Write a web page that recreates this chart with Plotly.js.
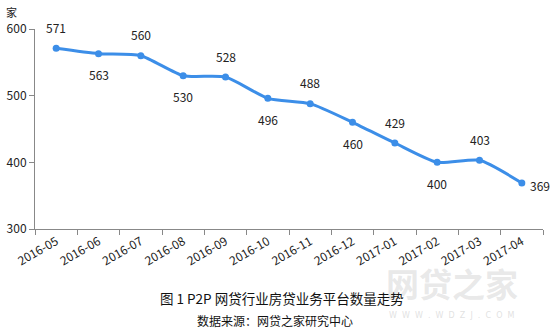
<!DOCTYPE html>
<html><head><meta charset="utf-8">
<script src="https://cdn.plot.ly/plotly-3.0.1.min.js"></script>
<style>html,body{margin:0;padding:0;background:#fff}#c{width:552px;height:328px}</style>
</head><body><div id="c"></div>
<script>
const months = ["2016-05","2016-06","2016-07","2016-08","2016-09","2016-10","2016-11","2016-12","2017-01","2017-02","2017-03","2017-04"];
const platforms = [571,563,560,530,528,496,488,460,429,400,403,369];
const labelPos = ["above","below","above","below","above","below","above","below","above","below","above","right"];
const yTicks = [300,400,500,600];

const font = "Microsoft YaHei, 'Noto Sans CJK SC', 'DejaVu Sans', sans-serif";
const annotations = months.map((m,i)=>{
  const p = labelPos[i];
  return {x:m, y:platforms[i], text:String(platforms[i]), showarrow:false,
    xshift: p==="right"?18:0, yshift: p==="above"?21:(p==="below"?-21:-2),
    font:{family:font,size:12,color:"#222"}};
});
annotations.push({xref:"paper",yref:"paper",x:-0.047,y:1.085,text:"家",showarrow:false,font:{family:"'Noto Sans CJK SC'",size:11,color:"#222"},xanchor:"center",yanchor:"middle"});
annotations.push({xref:"paper",yref:"paper",x:0.82,y:-0.27,text:"<b>网贷之家</b>",showarrow:false,font:{family:"'Noto Sans CJK SC'",size:33,color:"rgba(205,205,205,0.45)"},xanchor:"center",yanchor:"middle"});
annotations.push({xref:"paper",yref:"paper",x:0.82,y:-0.43,text:"W  W  W  .  W  D  Z  J  .  C  O  M",showarrow:false,font:{family:"'DejaVu Sans'",size:8,color:"rgba(205,205,205,0.6)"},xanchor:"center",yanchor:"middle"});
annotations.push({xref:"paper",yref:"paper",x:0.486,y:-0.345,text:"图 1 P2P 网贷行业房贷业务平台数量走势",showarrow:false,font:{family:"'Noto Sans CJK SC'",size:13.5,color:"#111"},xanchor:"center",yanchor:"middle"});
annotations.push({xref:"paper",yref:"paper",x:0.472,y:-0.455,text:"数据来源：网贷之家研究中心",showarrow:false,font:{family:"'Noto Sans CJK SC'",size:12,color:"#111"},xanchor:"center",yanchor:"middle"});

Plotly.newPlot("c",[{
  x:months, y:platforms, type:"scatter", mode:"lines+markers",
  line:{color:"#3c8ee8",width:3,shape:"spline",smoothing:0.6},
  marker:{color:"#3c8ee8",size:7}
}],{
  width:552,height:328,
  margin:{l:35,r:9,t:29,b:99},
  paper_bgcolor:"#fff",plot_bgcolor:"#fff",
  showlegend:false,
  xaxis:{type:"category",tickson:"boundaries",ticks:"outside",ticklen:5,tickcolor:"#888",
    showline:true,linecolor:"#888",linewidth:1,showgrid:false,zeroline:false,
    tickangle:-30,tickfont:{family:font,size:12,color:"#222"},range:[-0.5,11.5]},
  yaxis:{range:[300,600],tickvals:yTicks,ticks:"outside",ticklen:5,tickcolor:"#888",
    showline:true,linecolor:"#888",linewidth:1,showgrid:false,zeroline:false,
    tickfont:{family:font,size:12,color:"#222"}},
  annotations:annotations
},{displayModeBar:false,staticPlot:true});
</script></body></html>
